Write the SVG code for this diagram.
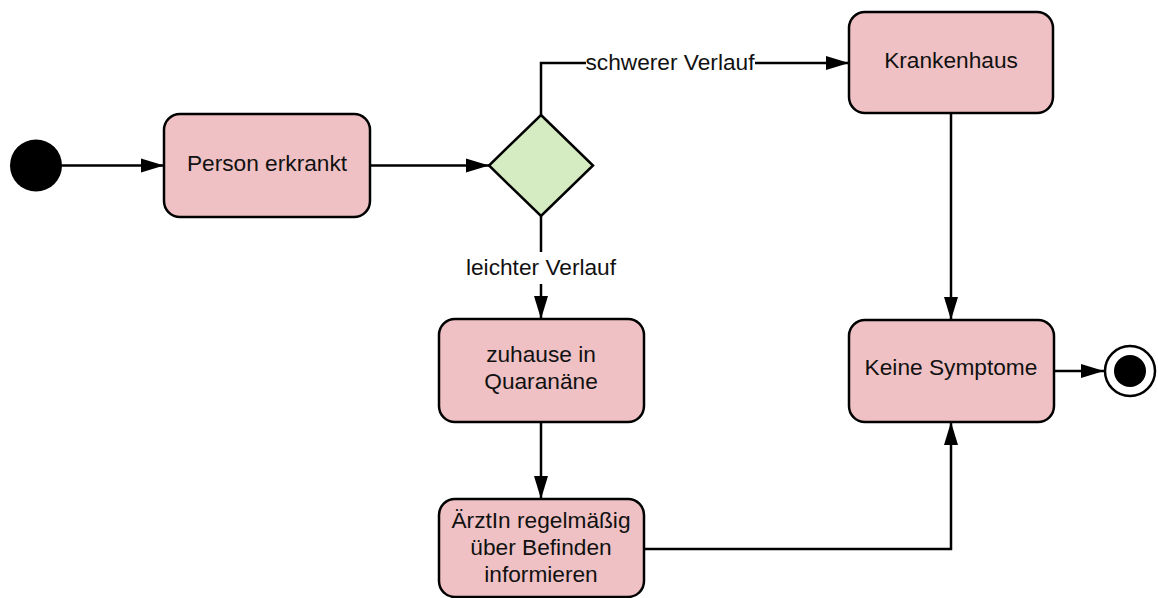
<svg xmlns="http://www.w3.org/2000/svg" width="1158" height="598" viewBox="0 0 1158 598">
<style>
.box{fill:#efc1c4;stroke:#000;stroke-width:2.5}
.dec{fill:#d5ecc2;stroke:#000;stroke-width:2.5}
.t{font-family:"Liberation Sans",Arial,sans-serif;font-size:22.7px;fill:#111;text-anchor:middle}
.c{fill:none;stroke:#000;stroke-width:2.5}
</style>
<defs>
<marker id="ah" markerWidth="24" markerHeight="16" refX="23" refY="8" orient="auto" markerUnits="userSpaceOnUse">
<path d="M0,1 L23,8 L0,15 Z" fill="#000"/>
</marker>
</defs>
<rect width="1158" height="598" fill="#fff"/>
<g id="connectors">
<path class="c" d="M62,165.5 H164" marker-end="url(#ah)"/>
<path class="c" d="M370,165.5 H489" marker-end="url(#ah)"/>
<path class="c" d="M541,115 V63 H849" marker-end="url(#ah)"/>
<path class="c" d="M541,216 V319" marker-end="url(#ah)"/>
<path class="c" d="M541,422 V499" marker-end="url(#ah)"/>
<path class="c" d="M951,113 V320" marker-end="url(#ah)"/>
<path class="c" d="M644,549 H951 V422" marker-end="url(#ah)"/>
<path class="c" d="M1054,371 H1104" marker-end="url(#ah)"/>
<rect x="586" y="50" width="169" height="26" fill="#fff"/>
<text class="t" x="670" y="70">schwerer Verlauf</text>
<rect x="463" y="252" width="156" height="32" fill="#fff"/>
<text class="t" x="541" y="275">leichter Verlauf</text>
</g>
<g id="start"><circle cx="36" cy="165.5" r="26" fill="#000"/></g>
<g id="person"><rect class="box" x="164" y="114" width="206" height="103" rx="16"/><text class="t" x="267" y="171">Person erkrankt</text></g>
<g id="decision"><polygon class="dec" points="541,115 593,165.5 541,216 489,165.5"/></g>
<g id="krankenhaus"><rect class="box" x="849" y="12" width="204" height="101" rx="16"/><text class="t" x="951" y="68">Krankenhaus</text></g>
<g id="quarantaene"><rect class="box" x="439" y="319" width="205" height="103" rx="16"/><text class="t" x="541" y="362">zuhause in</text><text class="t" x="541" y="389">Quaranäne</text></g>
<g id="arzt"><rect class="box" x="439" y="499" width="205" height="98" rx="16"/><text class="t" x="541" y="528">ÄrztIn regelmäßig</text><text class="t" x="541" y="555">über Befinden</text><text class="t" x="541" y="582">informieren</text></g>
<g id="keine"><rect class="box" x="849" y="320" width="205" height="102" rx="16"/><text class="t" x="951" y="375">Keine Symptome</text></g>
<g id="end"><circle cx="1130" cy="371" r="25" fill="#fff" stroke="#000" stroke-width="2.5"/><circle cx="1130" cy="371" r="16" fill="#000"/></g>
</svg>
